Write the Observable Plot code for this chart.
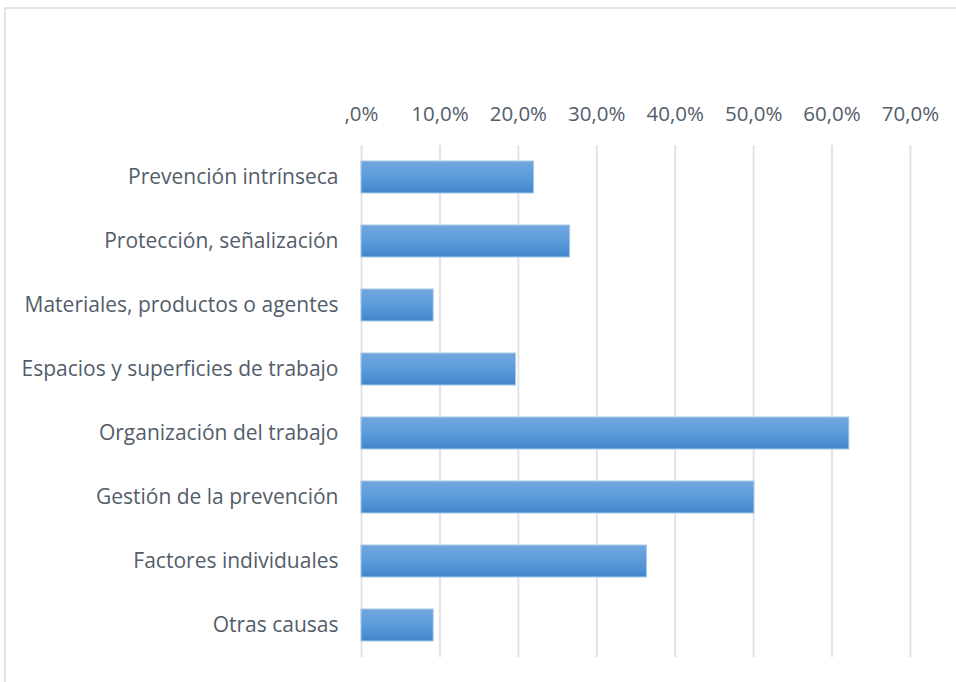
<!DOCTYPE html>
<html>
<head>
<meta charset="utf-8">
<script src="https://cdn.jsdelivr.net/npm/d3@7"></script>
<script src="https://cdn.jsdelivr.net/npm/@observablehq/plot@0.6"></script>
<style>
  html, body { margin: 0; padding: 0; background: #fff; overflow: hidden; }
  #wrap { position: relative; width: 956px; height: 682px; }
  #frame { position: absolute; left: 4px; top: 7px; width: 960px; height: 700px;
           border-left: 2px solid #dfe3ea; border-top: 2px solid #dfe3ea; pointer-events: none; }
</style>
</head>
<body>
<div id="wrap"><div id="frame"></div></div>
<script>
const categories = [
  "Prevención intrínseca",
  "Protección, señalización",
  "Materiales, productos o agentes",
  "Espacios y superficies de trabajo",
  "Organización del trabajo",
  "Gestión de la prevención",
  "Factores individuales",
  "Otras causas"
];
const values = [22.0, 26.6, 9.2, 19.7, 62.2, 50.1, 36.4, 9.2];
const tickValues = [0, 10, 20, 30, 40, 50, 60, 70];
const tickLabels = [",0%", "10,0%", "20,0%", "30,0%", "40,0%", "50,0%", "60,0%", "70,0%"];

const data = categories.map((c, i) => ({category: c, value: values[i]}));

const chart = Plot.plot({
  width: 956,
  height: 682,
  marginLeft: 361,
  marginRight: 46,
  marginTop: 145,
  marginBottom: 25,
  style: {fontFamily: "'Open Sans', sans-serif", fontSize: "20px", color: "#535d6a", background: "transparent"},
  x: {domain: [0, 70], axis: null, label: null},
  y: {domain: categories, paddingInner: 0.5, paddingOuter: 0.25, axis: null, label: null},
  marks: [
    Plot.ruleX(tickValues, {stroke: "#dfe3ea", strokeWidth: 2}),
    Plot.axisX(tickValues, {anchor: "top", label: null, tickSize: 0, tickPadding: 25, fontSize: 20.5, fill: "#535d6a",
      tickFormat: (d) => tickLabels[tickValues.indexOf(d)]}),
    Plot.axisY({anchor: "left", label: null, tickSize: 0, tickPadding: 23, fontSize: 21, fill: "#535d6a"}),
    Plot.barX(data, {x: "value", y: "category", fill: "url(#barGrad)", stroke: "#a9c8ea", strokeWidth: 1})
  ]
});

const defs = d3.select(chart).insert("defs", ":first-child");
const g = defs.append("linearGradient").attr("id", "barGrad").attr("x1", 0).attr("y1", 0).attr("x2", 0).attr("y2", 1);
g.append("stop").attr("offset", "0%").attr("stop-color", "#71a8de");
g.append("stop").attr("offset", "50%").attr("stop-color", "#5a9bdc");
g.append("stop").attr("offset", "100%").attr("stop-color", "#4185c9");

document.getElementById("wrap").insertBefore(chart, document.getElementById("frame"));
</script>
</body>
</html>
